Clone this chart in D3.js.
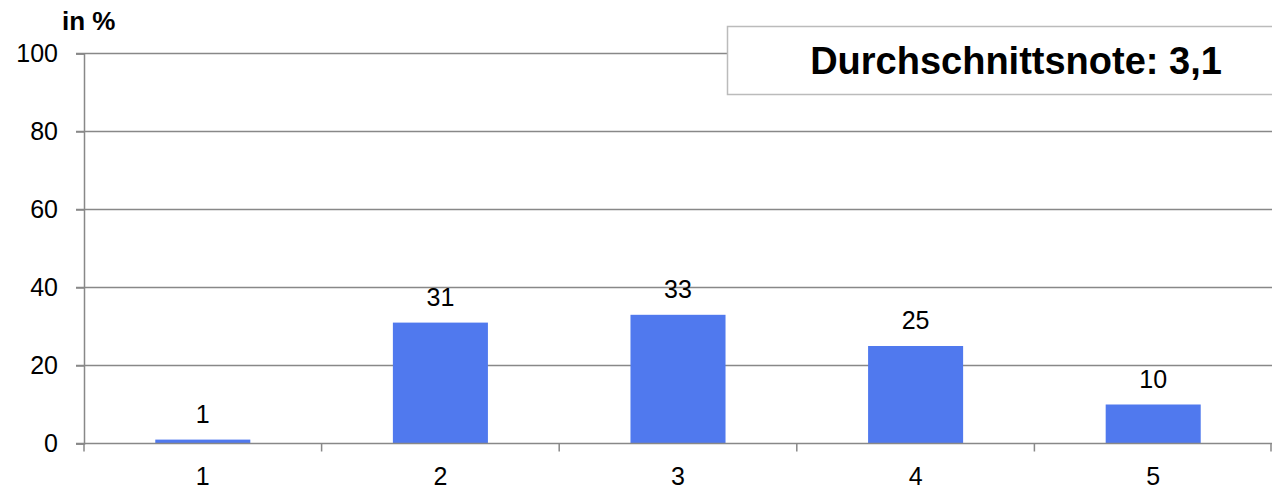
<!DOCTYPE html>
<html><head><meta charset="utf-8">
<script src="https://cdn.jsdelivr.net/npm/d3@7"></script>
<style>body{margin:0;background:#fff;}svg{display:block;font-family:"Liberation Sans",Arial,sans-serif;}</style>
</head><body><svg id="c" width="1272" height="489"></svg>
<script>
const categories = ["1","2","3","4","5"];
const values = [1,31,33,25,10];
const yTicks = [0,20,40,60,80,100];
const yLabel = "in %";
const noteText = "Durchschnittsnote: 3,1";

const svg = d3.select("#c");
const m = {l:84, r:1272, t:53.5, b:443.5};
const x = d3.scaleBand().domain(categories).range([m.l, m.r]).paddingInner(0.6).paddingOuter(0.3);
const xb = d3.scaleBand().domain(categories).range([m.l, m.r]);
const y = d3.scaleLinear().domain([0,100]).range([m.b, m.t]);
const axisCol = "#888";
const font = "Liberation Sans, Arial, sans-serif";

// gridlines
svg.append("g").selectAll("line").data(yTicks.filter(d=>d>0)).join("line")
  .attr("x1", m.l-8).attr("x2", m.r).attr("y1", d=>y(d)).attr("y2", d=>y(d))
  .attr("stroke", axisCol).attr("stroke-width", 1.5);

// y axis
const ya = svg.append("g").attr("transform", `translate(${m.l},0)`)
  .call(d3.axisLeft(y).tickValues(yTicks).tickSize(8).tickPadding(18));
ya.select(".domain").attr("stroke", axisCol).attr("stroke-width", 1.5);
ya.selectAll(".tick line").attr("stroke", axisCol).attr("stroke-width", 1.5);
ya.selectAll(".tick text").attr("font-size", 25).attr("fill", "#000").attr("font-family", font);

// bars
svg.append("g").selectAll("rect").data(values).join("rect")
  .attr("x", (d,i)=>x(categories[i])).attr("width", x.bandwidth())
  .attr("y", d=>y(d)).attr("height", d=>y(0)-y(d))
  .attr("fill", "#5079EE");

// x axis
const boundaries = categories.map(c=>xb(c)).concat([m.r]);
svg.append("line").attr("x1", m.l-8).attr("x2", m.r).attr("y1", m.b).attr("y2", m.b)
  .attr("stroke", axisCol).attr("stroke-width", 1.5);
svg.append("g").selectAll("line").data(boundaries).join("line")
  .attr("x1", d=>Math.min(d, m.r-1)).attr("x2", d=>Math.min(d, m.r-1)).attr("y1", m.b).attr("y2", m.b+8)
  .attr("stroke", axisCol).attr("stroke-width", 1.5);
svg.append("g").selectAll("text").data(categories).join("text")
  .attr("x", d=>xb(d)+xb.bandwidth()/2).attr("y", 485)
  .attr("text-anchor", "middle").attr("font-size", 25).text(d=>d);

// value labels
svg.append("g").selectAll("text").data(values).join("text")
  .attr("x", (d,i)=>x(categories[i])+x.bandwidth()/2).attr("y", d=>y(d)-17)
  .attr("text-anchor", "middle").attr("font-size", 25).text(d=>d);

// y label
svg.append("text").attr("x", 62).attr("y", 30).attr("font-size", 26).attr("font-weight", "bold").text(yLabel);

// note box
svg.append("rect").attr("x", 727.5).attr("y", 26.5).attr("width", 560).attr("height", 68)
  .attr("fill", "#fff").attr("stroke", "#bbb").attr("stroke-width", 1.5);
svg.append("text").attr("x", 1016).attr("y", 74).attr("text-anchor", "middle")
  .attr("font-size", 38).attr("font-weight", "bold").text(noteText);
</script></body></html>
